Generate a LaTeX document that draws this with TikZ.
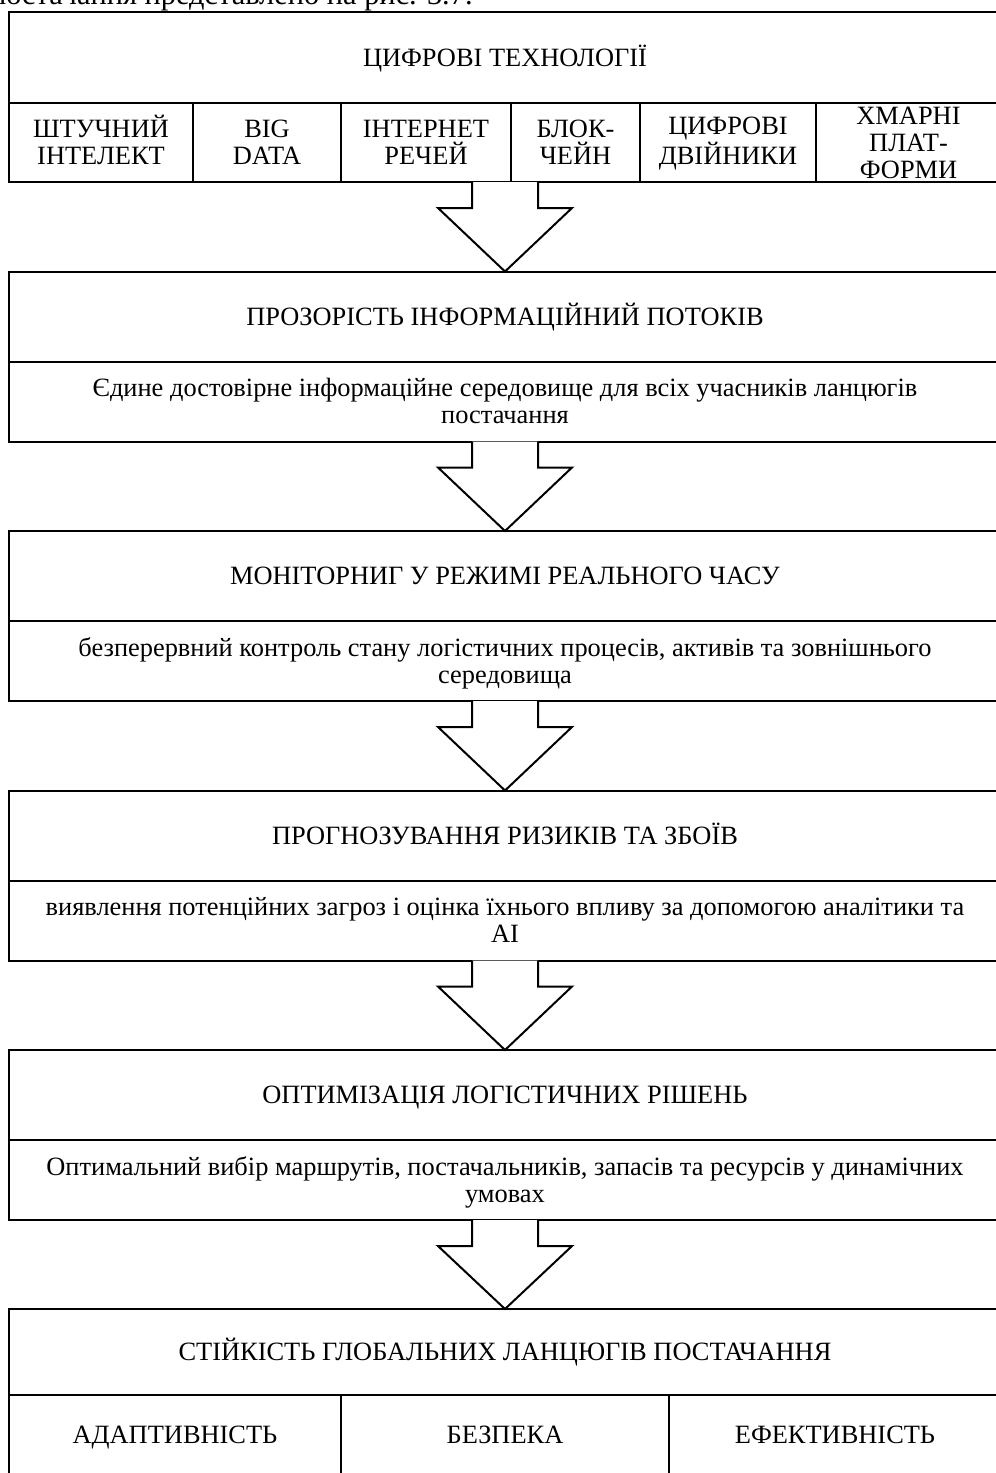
\documentclass[tikz,border=0pt]{standalone}
\usepackage{fontspec}
\setmainfont{Liberation Serif}
\newfontfamily\timesfam{Liberation Serif}
\usetikzlibrary{calc}
\newcommand\pxu{0.5pt}
\newcommand\boxfont{\timesfam\fontsize{13.2pt}{13.5pt}\selectfont}
\newcommand\pagefont{\timesfam\fontsize{15.2pt}{16pt}\selectfont}
\begin{document}
\begin{tikzpicture}[x=0.5pt,y=-0.5pt,
  cellbox/.style={draw, line width=1pt, inner sep=0pt, outer sep=0pt,
    anchor=north west, align=center, font=\boxfont},
  % fixed text boxes so that every line sits on the cell's centre line
  lineone/.style={text height=10.5pt, text depth=1.8pt},
  linetwo/.style={text height=24pt, text depth=1.8pt},
  linethree/.style={text height=37.5pt, text depth=1.8pt},
  blockarrow/.style={draw, line width=1pt, fill=white, line join=miter}]
\clip (0,0) rectangle (996,1473);

% running text of the page above the figure
\node[anchor=base east, inner sep=0pt, font=\pagefont] (cap) at (473,4.5)
  {постачання представлено на рис. 3.7.};

% block 1: digital technologies
\node[cellbox, lineone, minimum width=992*\pxu, minimum height=91*\pxu] (t1) at (9,12) {ЦИФРОВІ ТЕХНОЛОГІЇ};
\node[cellbox, minimum width=992*\pxu, minimum height=79*\pxu] (r1) at (9,103) {};
\node[cellbox, linetwo, minimum width=184*\pxu, minimum height=79*\pxu] (c1) at (9,103) {ШТУЧНИЙ\\ІНТЕЛЕКТ};
\node[cellbox, linetwo, minimum width=148*\pxu, minimum height=79*\pxu] (c2) at (193,103) {BIG\\DATA};
\node[cellbox, linetwo, minimum width=170*\pxu, minimum height=79*\pxu] (c3) at (341,103) {ІНТЕРНЕТ\\РЕЧЕЙ};
\node[cellbox, linetwo, minimum width=129*\pxu, minimum height=79*\pxu] (c4) at (511,103) {БЛОК-\\ЧЕЙН};
\node[cellbox, linetwo, minimum width=176*\pxu, minimum height=79*\pxu] (c5) at (640,103) {ЦИФРОВІ\\ДВІЙНИКИ};
\node[cellbox, linethree, minimum width=185*\pxu, minimum height=79*\pxu] (c6) at (816,103) {ХМАРНІ\\ПЛАТ-\\ФОРМИ};

% blocks 2-5: title and description
\node[cellbox, lineone, minimum width=992*\pxu, minimum height=90*\pxu] (t2) at (9,271.5) {ПРОЗОРІСТЬ ІНФОРМАЦІЙНИЙ ПОТОКІВ};
\node[cellbox, linetwo, minimum width=992*\pxu, minimum height=80*\pxu] (s2) at (9,361.5)
  {Єдине достовірне інформаційне середовище для всіх учасників ланцюгів\\постачання};

\node[cellbox, lineone, minimum width=992*\pxu, minimum height=90*\pxu] (t3) at (9,531) {МОНІТОРНИГ У РЕЖИМІ РЕАЛЬНОГО ЧАСУ};
\node[cellbox, linetwo, minimum width=992*\pxu, minimum height=80*\pxu] (s3) at (9,621)
  {безперервний контроль стану логістичних процесів, активів та зовнішнього\\середовища};

\node[cellbox, lineone, minimum width=992*\pxu, minimum height=90*\pxu] (t4) at (9,790.5) {ПРОГНОЗУВАННЯ РИЗИКІВ ТА ЗБОЇВ};
\node[cellbox, linetwo, minimum width=992*\pxu, minimum height=80*\pxu] (s4) at (9,880.5)
  {виявлення потенційних загроз і оцінка їхнього впливу за допомогою аналітики та\\AI};

\node[cellbox, lineone, minimum width=992*\pxu, minimum height=90*\pxu] (t5) at (9,1050) {ОПТИМІЗАЦІЯ ЛОГІСТИЧНИХ РІШЕНЬ};
\node[cellbox, linetwo, minimum width=992*\pxu, minimum height=80*\pxu] (s5) at (9,1140)
  {Оптимальний вибір маршрутів, постачальників, запасів та ресурсів у динамічних\\умовах};

% block 6: resilience
\node[cellbox, lineone, minimum width=992*\pxu, minimum height=86*\pxu] (t6) at (9,1309) {СТІЙКІСТЬ ГЛОБАЛЬНИХ ЛАНЦЮГІВ ПОСТАЧАННЯ};
\node[cellbox, lineone, minimum width=332*\pxu, minimum height=80*\pxu] (d1) at (9,1395) {АДАПТИВНІСТЬ};
\node[cellbox, lineone, minimum width=328*\pxu, minimum height=80*\pxu] (d2) at (341,1395) {БЕЗПЕКА};
\node[cellbox, lineone, minimum width=332*\pxu, minimum height=80*\pxu] (d3) at (669,1395) {ЕФЕКТИВНІСТЬ};

% hollow block arrows between the blocks
\foreach \a/\b in {r1/t2, s2/t3, s3/t4, s4/t5, s5/t6}{
  \draw[blockarrow] ($(\a.south)+(-33,0)$) -- ++(0,26) -- ++(-34,0)
    -- (\b.north) -- ($(\a.south)+(67,26)$) -- ++(-34,0) -- ++(0,-26);
}
\end{tikzpicture}
\end{document}
